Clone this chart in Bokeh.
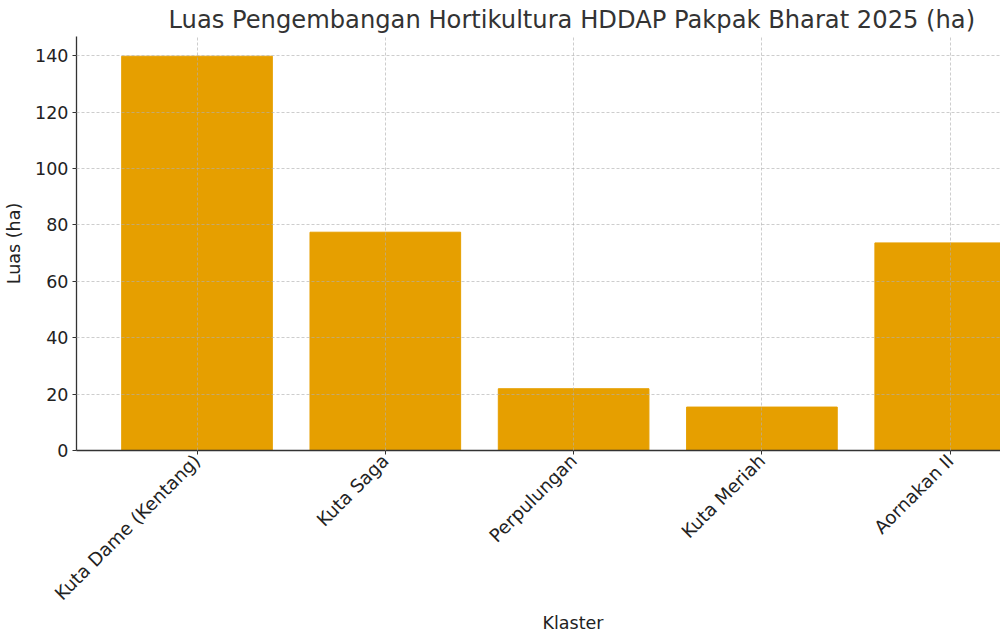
from bokeh.plotting import figure
from bokeh.models import Range1d, FixedTicker, Title
from bokeh.embed import file_html
from bokeh.resources import INLINE
import math

# ---- data ----
categories = ["Kuta Dame (Kentang)", "Kuta Saga", "Perpulungan", "Kuta Meriah", "Aornakan II"]
luas_ha = [139.8, 77.4, 21.9, 15.4, 73.6]
y_ticks = [0, 20, 40, 60, 80, 100, 120, 140]
title_text = "Luas Pengembangan Hortikultura HDDAP Pakpak Bharat 2025 (ha)"
x_label = "Klaster"
y_label = "Luas (ha)"

xs = list(range(len(categories)))
FONT = "DejaVu Sans"
TXT = "#333333"

p = figure(width=1000, height=644, output_backend="svg", toolbar_location=None,
           x_range=Range1d(-0.64, 4.267), y_range=Range1d(0, max(luas_ha) * 1.05),
           min_border_left=76, min_border_right=0, min_border_top=36, min_border_bottom=194)

p.title = Title(text=title_text, align="left", offset=92, text_font=FONT,
                text_font_size="24.2px", text_font_style="normal", text_color=TXT,
                standoff=6)

p.vbar(x=xs, top=luas_ha, width=0.8, color="#E69F00", line_color="#E69F00")

p.outline_line_color = None
p.background_fill_color = "white"
p.border_fill_color = "white"

# axes
p.xaxis.ticker = FixedTicker(ticks=xs)
p.xaxis.major_label_overrides = {i: c for i, c in enumerate(categories)}
p.xaxis.major_label_orientation = math.pi / 4
p.yaxis.ticker = FixedTicker(ticks=y_ticks)
for ax in (p.xaxis[0], p.yaxis[0]):
    ax.axis_line_color = "#333333"
    ax.axis_line_width = 1.3
    ax.major_tick_line_color = "#333333"
    ax.major_tick_out = 4
    ax.major_tick_in = 0
    ax.minor_tick_line_color = None
    ax.major_label_text_font = FONT
    ax.major_label_text_font_size = "17.5px"
    ax.major_label_text_color = "#222222"
    ax.major_label_standoff = 4
p.xaxis.major_label_standoff = 3
p.xaxis.major_label_text_font_size = "18.3px"

p.yaxis.axis_label = y_label
p.yaxis.axis_label_text_font = FONT
p.yaxis.axis_label_text_font_size = "17.5px"
p.yaxis.axis_label_text_font_style = "normal"
p.yaxis.axis_label_text_color = "#222222"
p.yaxis.axis_label_standoff = 8

# grid on top of bars, dashed
p.xgrid.ticker = FixedTicker(ticks=xs)
p.ygrid.ticker = FixedTicker(ticks=y_ticks)
for g in (p.xgrid[0], p.ygrid[0]):
    g.grid_line_color = "#b0b0b0"
    g.grid_line_alpha = 0.7
    g.grid_line_dash = "3 2"
    g.grid_line_width = 0.9
    g.level = "overlay"

# x axis label, centred on the full (cropped) axis
p.add_layout(Title(text=x_label, align="left", offset=466, text_font=FONT,
                   text_font_size="17.5px", text_font_style="normal",
                   text_color="#222222", standoff=-7), "below")

open("out.html", "w").write(file_html(p, INLINE))
